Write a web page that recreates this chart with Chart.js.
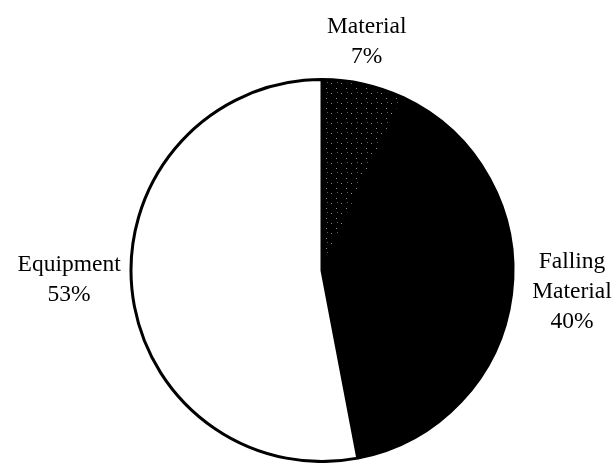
<!DOCTYPE html>
<html lang="en">
<head>
    <meta charset="UTF-8">
    <title>Accident Causes</title>
    <script src="https://cdn.jsdelivr.net/npm/chart.js"></script>
    <style>
        html, body { margin: 0; padding: 0; background: #fff; }
        #wrap { width: 616px; height: 463px; }
    </style>
</head>
<body>
    <div id="wrap"><canvas id="pieChart" width="616" height="463"></canvas></div>

    <script type=text/javascript>
        // slice data, clockwise from 12 o'clock
        var categories = [['Material'], ['Falling', 'Material'], ['Equipment']];
        var shares = [7, 40, 53];

        // speckled near-black fill for the small slice
        function speckle() {
            var c = document.createElement('canvas');
            c.width = 10; c.height = 10;
            var g = c.getContext('2d');
            g.fillStyle = '#000';
            g.fillRect(0, 0, 10, 10);
            g.fillStyle = '#8a8a8a';
            g.fillRect(1, 3, 1, 1);
            g.fillRect(6, 8, 1, 1);
            g.fillStyle = '#5a5a5a';
            g.fillRect(7, 2, 1, 1);
            return g.createPattern(c, 'repeat');
        }

        // draws "name / xx%" next to each slice
        var sliceLabels = {
            id: 'sliceLabels',
            afterDatasetsDraw: function(chart, args, opts) {
                var ctx = chart.ctx;
                var meta = chart.getDatasetMeta(0);
                ctx.save();
                ctx.font = opts.font;
                ctx.fillStyle = '#000';
                ctx.textAlign = 'center';
                ctx.textBaseline = 'middle';
                meta.data.forEach(function(arc, i) {
                    var mid = (arc.startAngle + arc.endAngle) / 2;
                    var r = arc.outerRadius + opts.gap;
                    var nudge = opts.nudge[i] || {dx: 0, dy: 0};
                    var x = arc.x + Math.cos(mid) * r + nudge.dx;
                    var y = arc.y + Math.sin(mid) * r + nudge.dy;
                    var lines = categories[i].concat([shares[i] + '%']);
                    var top = y - (lines.length - 1) * opts.lineHeight / 2;
                    lines.forEach(function(t, k) {
                        ctx.fillText(t, x, top + k * opts.lineHeight);
                    });
                });
                ctx.restore();
            }
        };

        var pieCtx = document.getElementById('pieChart').getContext('2d');
        var pieChart = new Chart(pieCtx, {
            type: 'pie',
            data: {
                labels: categories,
                datasets: [
                    {
                        data: shares,
                        backgroundColor: [speckle(), '#000000', '#ffffff'],
                        borderColor: '#000000',
                        borderWidth: 3
                    }
                ]
            },
            options: {
                responsive: false,
                animation: false,
                layout: {
                    padding: { top: 78, bottom: 0, left: 28, right: 0 }
                },
                plugins: {
                    legend: { display: false },
                    tooltip: { enabled: false },
                    sliceLabels: {
                        font: '23.5px "Liberation Serif", "Times New Roman", serif',
                        lineHeight: 30,
                        gap: 60,
                        nudge: [ {dx: -10, dy: 16}, {dx: 1, dy: -10}, {dx: -3, dy: -14} ]
                    }
                }
            },
            plugins: [sliceLabels]
        });
    </script>
</body>
</html>
